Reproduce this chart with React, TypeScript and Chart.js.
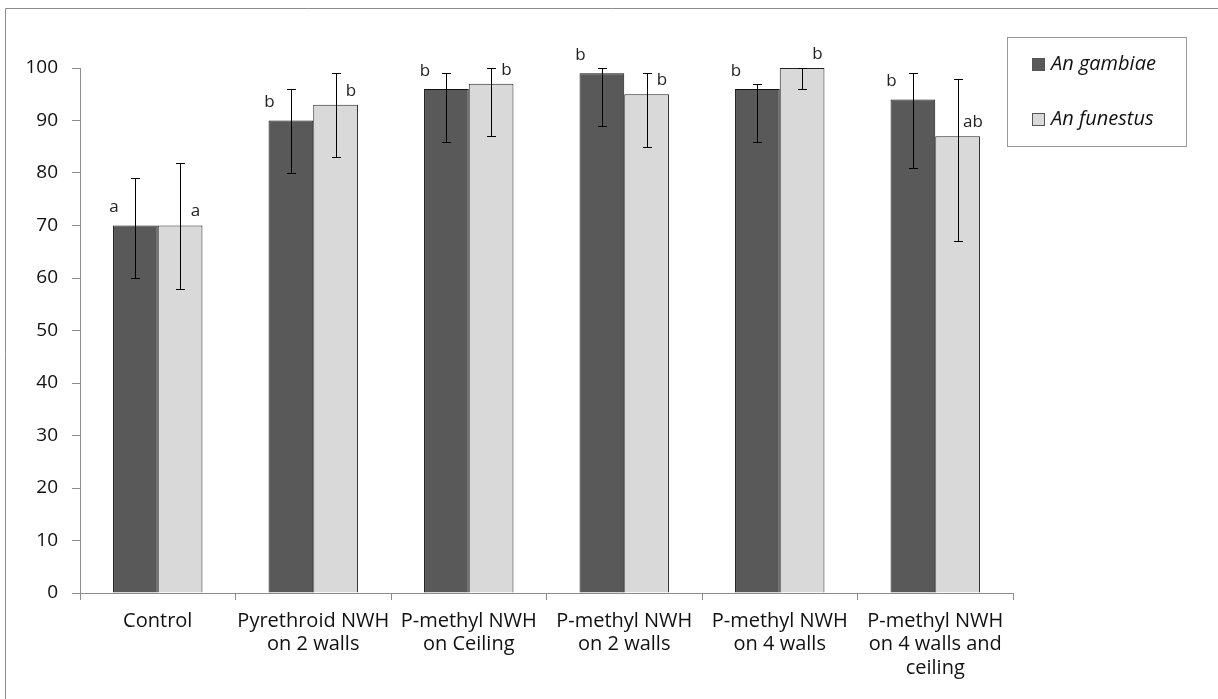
import React, { useEffect, useRef } from "react";
import { Chart, registerables } from "chart.js";

Chart.register(...registerables);

const categories: string[][] = [
  ["Control"],
  ["Pyrethroid NWH", "on 2 walls"],
  ["P-methyl NWH", "on Ceiling"],
  ["P-methyl NWH", "on 2 walls"],
  ["P-methyl NWH", "on 4 walls"],
  ["P-methyl NWH", "on 4 walls and", "ceiling"],
];
const gambiae = [70, 90, 96, 99, 96, 94];
const gambiaeLow = [60, 80, 86, 89, 86, 81];
const gambiaeHigh = [79, 96, 99, 100, 97, 99];
const funestus = [70, 93, 97, 95, 100, 87];
const funestusLow = [58, 83, 87, 85, 96, 67];
const funestusHigh = [82, 99, 100, 99, 100, 98];
const gambiaeLetters = ["a", "b", "b", "b", "b", "b"];
const funestusLetters = ["a", "b", "b", "b", "b", "ab"];
const yTicks = [0, 10, 20, 30, 40, 50, 60, 70, 80, 90, 100];

const DARK = "#595959";
const LIGHT = "#d9d9d9";
const FONT = "'Open Sans', 'Liberation Sans', sans-serif";

const lows = [gambiaeLow, funestusLow];
const highs = [gambiaeHigh, funestusHigh];
const letters = [gambiaeLetters, funestusLetters];

const decorPlugin = {
  id: "decor",
  beforeDraw(chart: any) {
    const ctx = chart.ctx;
    ctx.save();
    ctx.fillStyle = "#fff";
    ctx.fillRect(0, 0, chart.width, chart.height);
    ctx.strokeStyle = "#8c8c8c";
    ctx.lineWidth = 1;
    ctx.beginPath();
    ctx.moveTo(5.5, chart.height);
    ctx.lineTo(5.5, 8.5);
    ctx.lineTo(chart.width, 8.5);
    ctx.stroke();
    ctx.restore();
  },
  afterDatasetsDraw(chart: any) {
    const ctx = chart.ctx;
    const y = chart.scales.y;
    ctx.save();
    // error bars
    ctx.strokeStyle = "#000";
    ctx.lineWidth = 1;
    chart.data.datasets.forEach((ds: any, di: number) => {
      const meta = chart.getDatasetMeta(di);
      meta.data.forEach((bar: any, j: number) => {
        const x = Math.round(bar.x) + 0.5;
        const yl = Math.round(y.getPixelForValue(lows[di][j])) + 0.5;
        const yh = Math.round(y.getPixelForValue(highs[di][j])) + 0.5;
        ctx.beginPath();
        ctx.moveTo(x, yl);
        ctx.lineTo(x, yh);
        ctx.moveTo(x - 4.5, yl);
        ctx.lineTo(x + 4.5, yl);
        ctx.moveTo(x - 4.5, yh);
        ctx.lineTo(x + 4.5, yh);
        ctx.stroke();
      });
    });
    // letters
    ctx.fillStyle = "#222";
    ctx.font = `17px ${FONT}`;
    ctx.textAlign = "center";
    ctx.textBaseline = "middle";
    chart.data.datasets.forEach((ds: any, di: number) => {
      const meta = chart.getDatasetMeta(di);
      meta.data.forEach((bar: any, j: number) => {
        const left = bar.x - bar.width / 2;
        const right = bar.x + bar.width / 2;
        if (di === 0) {
          ctx.fillText(letters[di][j], left + 1, bar.y - 18);
        } else {
          ctx.fillText(letters[di][j], right - 7, bar.y - 14);
        }
      });
    });
    // legend
    ctx.strokeStyle = "#999";
    ctx.strokeRect(1007.5, 37.5, 179, 109);
    const entries = chart.data.datasets;
    const ys = [58, 113];
    ctx.font = `italic 20px ${FONT}`;
    ctx.textAlign = "left";
    entries.forEach((ds: any, i: number) => {
      ctx.fillStyle = ds.backgroundColor;
      ctx.fillRect(1032, ys[i], 13, 13);
      ctx.strokeStyle = "#555";
      ctx.strokeRect(1032.5, ys[i] + 0.5, 12, 12);
      ctx.fillStyle = "#111";
      ctx.fillText(ds.label, 1051, ys[i] + 6);
    });
    ctx.restore();
  },
};

export default function App() {
  const ref = useRef<HTMLCanvasElement>(null);
  useEffect(() => {
    const chart = new Chart(ref.current!, {
      type: "bar",
      data: {
        labels: categories as any,
        datasets: [
          {
            label: "An gambiae",
            data: gambiae,
            backgroundColor: DARK,
            borderColor: "#111",
            borderWidth: 1,
            categoryPercentage: 0.575,
            barPercentage: 1.0,
          },
          {
            label: "An funestus",
            data: funestus,
            backgroundColor: LIGHT,
            borderColor: "#222",
            borderWidth: 1,
            categoryPercentage: 0.575,
            barPercentage: 1.0,
          },
        ],
      },
      options: {
        responsive: false,
        animation: false,
        layout: { padding: { left: 0, right: 205, top: 68, bottom: 0 } },
        plugins: { legend: { display: false }, tooltip: { enabled: false } },
        scales: {
          x: {
            grid: {
              display: true,
              drawOnChartArea: false,
              drawTicks: true,
              tickLength: 7,
              color: "#8c8c8c",
              offset: true,
            },
            border: { color: "#8c8c8c" },
            ticks: {
              color: "#111",
              font: { family: FONT, size: 20, lineHeight: 1.18 },
              padding: 9,
              maxRotation: 0,
              autoSkip: false,
            },
            afterFit: (s: any) => {
              s.height = 106;
            },
          },
          y: {
            min: 0,
            max: 100,
            afterBuildTicks: (s: any) => {
              s.ticks = yTicks.map((v) => ({ value: v }));
            },
            grid: {
              display: true,
              drawOnChartArea: false,
              drawTicks: true,
              tickLength: 8,
              color: "#8c8c8c",
            },
            border: { color: "#8c8c8c" },
            ticks: {
              color: "#111",
              font: { family: FONT, size: 19 },
              padding: 14,
            },
            afterFit: (s: any) => {
              s.width = 80;
            },
          },
        },
      },
      plugins: [decorPlugin],
    });
    return () => chart.destroy();
  }, []);
  return (
    <div style={{ position: "fixed", left: 0, top: 0, width: 1218, height: 699 }}>
      <canvas ref={ref} width={1218} height={699} />
    </div>
  );
}
